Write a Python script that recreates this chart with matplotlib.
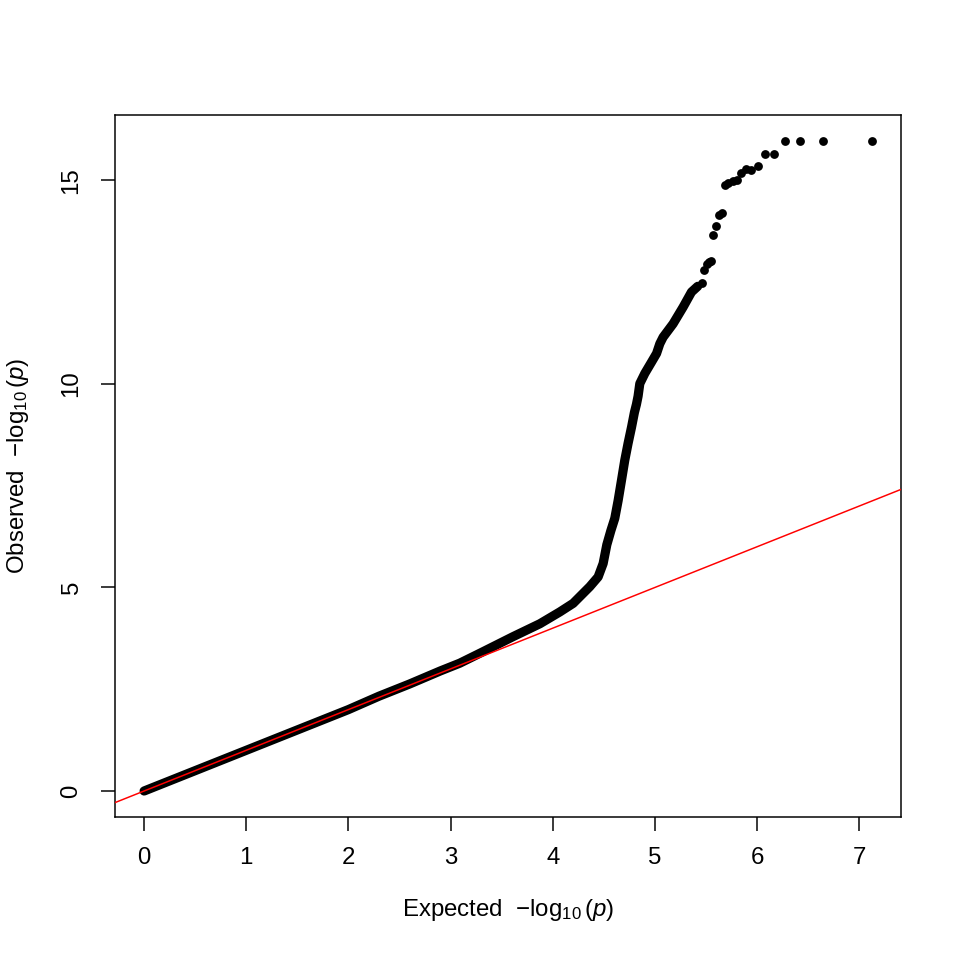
import matplotlib
matplotlib.use("Agg")
import matplotlib.pyplot as plt

plt.rcParams['font.family'] = ['Liberation Sans', 'DejaVu Sans']
plt.rcParams['mathtext.fontset'] = 'custom'
plt.rcParams['mathtext.rm'] = 'Liberation Sans'
plt.rcParams['mathtext.it'] = 'Liberation Sans:italic'
plt.rcParams['mathtext.default'] = 'regular'

# Dense part of the QQ curve (expected, observed)
band_x = [0.0, 0.5, 1.0, 1.5, 2.0, 2.3, 2.6, 2.9, 3.09, 3.3, 3.61, 3.875, 4.07,
          4.2, 4.363, 4.445, 4.494, 4.53, 4.57, 4.608, 4.641, 4.674, 4.706,
          4.738, 4.772, 4.80, 4.82, 4.836, 4.853, 4.902, 4.968, 5.017, 5.049, 5.081,
          5.179, 5.277, 5.359, 5.42]
band_y = [0.0, 0.5, 1.0, 1.5, 2.0, 2.33, 2.63, 2.95, 3.14, 3.4, 3.79, 4.11, 4.40,
          4.61, 5.02, 5.26, 5.59, 6.05, 6.40, 6.70, 7.14, 7.64, 8.13,
          8.54, 8.94, 9.30, 9.50, 9.70, 10.01, 10.26, 10.54, 10.75, 10.99, 11.15,
          11.48, 11.89, 12.26, 12.40]

# Sparse top points
top_x = [5.463, 5.483, 5.512, 5.53, 5.548, 5.571, 5.60, 5.63, 5.656, 5.686, 5.715,
         5.764, 5.80, 5.842, 5.888, 5.94, 6.006, 6.077, 6.163, 6.276, 6.42, 6.645, 7.125]
top_y = [12.47, 12.79, 12.96, 12.99, 13.01, 13.65, 13.88, 14.14, 14.21, 14.88, 14.93,
         14.98, 15.02, 15.19, 15.27, 15.26, 15.36, 15.66, 15.66, 15.97, 15.97, 15.97, 15.97]

x_ticks = [0, 1, 2, 3, 4, 5, 6, 7]
y_ticks = [0, 5, 10, 15]

DPI = 144
fig = plt.figure(figsize=(960 / DPI, 960 / DPI), dpi=DPI)
ax = fig.add_axes([115 / 960, 143 / 960, 786 / 960, 702 / 960])

ax.plot(band_x, band_y, color='black', lw=4.6, solid_capstyle='round',
        solid_joinstyle='round', zorder=2)
ax.plot(top_x, top_y, 'o', color='black', ms=4.4, mec='black', mew=0, zorder=2)

xmax = max(top_x)
ymax = max(top_y)
ax.set_xlim(-0.04 * xmax, xmax * 1.04)
ax.set_ylim(-0.04 * ymax, ymax * 1.04)
ax.axline((0, 0), slope=1, color='red', lw=0.75, zorder=3)

ax.set_xticks(x_ticks)
ax.set_yticks(y_ticks)
ax.tick_params(direction='out', length=7.2, width=0.75, labelsize=12, color='black')
ax.tick_params(axis='x', pad=8)
ax.tick_params(axis='y', pad=9, labelrotation=90)
for lbl in ax.get_yticklabels():
    lbl.set_va('center')
for s in ax.spines.values():
    s.set_linewidth(0.75)

ax.set_xlabel(r"Expected  $-\log_{10}(\mathit{p})$", fontsize=12)
ax.set_ylabel(r"Observed  $-\log_{10}(\mathit{p})$", fontsize=12)
ax.xaxis.set_label_coords(0.5, -93 / 702)
ax.yaxis.set_label_coords(-97 / 786, 0.5)
ax.xaxis.label.set_va('center')
ax.yaxis.label.set_va('center')

fig.savefig('out.png', dpi=DPI)
